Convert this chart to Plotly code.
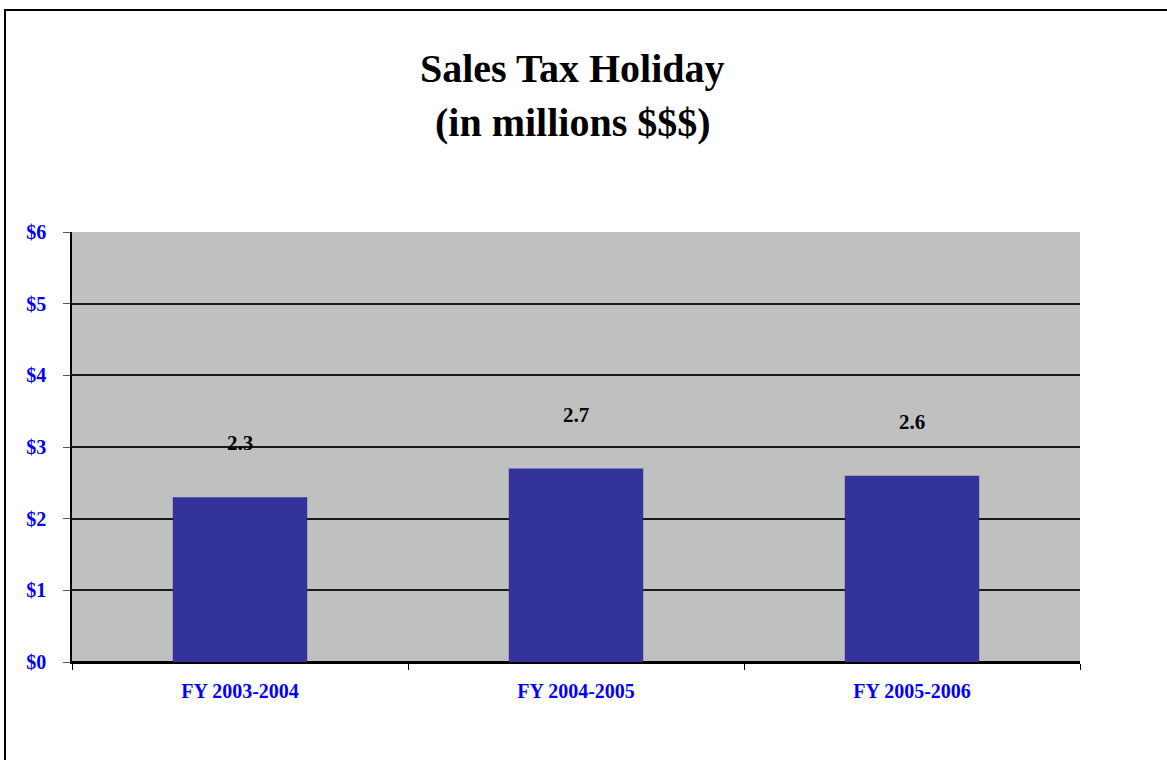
"""Sales tax holiday bar chart."""

import plotly.graph_objects as go

years = ["FY 2003-2004", "FY 2004-2005", "FY 2005-2006"]
sales = [2.3, 2.7, 2.6]
y_ticks = [0, 1, 2, 3, 4, 5, 6]
y_tick_labels = ["$" + str(v) for v in y_ticks]

SERIF = "Liberation Serif, Times New Roman, serif"

fig = go.Figure(go.Bar(
    x=years,
    y=sales,
    marker=dict(color="#333399", line=dict(width=0)),
    width=0.4,
    hoverinfo="x+y",
))

# value labels float well above each bar, like the original
for yr, v in zip(years, sales):
    fig.add_annotation(
        x=yr, y=v, text="<b>" + str(v) + "</b>", showarrow=False,
        yshift=54, font=dict(family=SERIF, size=21, color="black"),
    )

fig.add_annotation(
    text="<b>Sales Tax Holiday</b>", xref="paper", yref="paper",
    x=0.497, y=(662 - 68) / 430, showarrow=False, yanchor="middle",
    font=dict(family=SERIF, size=40, color="black"),
)
fig.add_annotation(
    text="<b>(in millions $$$)</b>", xref="paper", yref="paper",
    x=0.497, y=(662 - 122) / 430, showarrow=False, yanchor="middle",
    font=dict(family=SERIF, size=40, color="black"),
)

# outer chart-area frame
fig.add_shape(
    type="rect", xref="paper", yref="paper",
    x0=(5 - 72) / 1008, x1=1.2, y0=-0.5, y1=(662 - 10) / 430,
    line=dict(color="black", width=2), layer="below",
)

fig.update_layout(
    width=1167,
    height=760,
    margin=dict(l=72, r=87, t=232, b=98),
    paper_bgcolor="white",
    plot_bgcolor="#C0C0C0",
    showlegend=False,
    xaxis=dict(
        showgrid=False,
        showline=True, linecolor="black", linewidth=1.5,
        ticks="outside", tickson="boundaries", ticklen=6, tickcolor="black",
        tickfont=dict(family=SERIF, size=20, color="#0000FF", weight="bold"),
        ticklabelstandoff=10,
    ),
    yaxis=dict(
        range=[0, 6],
        tickmode="array",
        tickvals=y_ticks,
        ticktext=y_tick_labels,
        showgrid=True, gridcolor="#1a1a1a", gridwidth=2,
        zeroline=True, zerolinecolor="black", zerolinewidth=1.5,
        showline=True, linecolor="black", linewidth=1.5,
        ticks="outside", ticklen=7, tickcolor="#555555",
        tickfont=dict(family=SERIF, size=20, color="#0000FF", weight="bold"),
        ticklabelstandoff=13,
    ),
)

# drop the default page margin so the figure sits at the window corner
fig.write_html(
    "out.html",
    config={"displayModeBar": False},
    post_script="document.body.style.margin='0';",
)
